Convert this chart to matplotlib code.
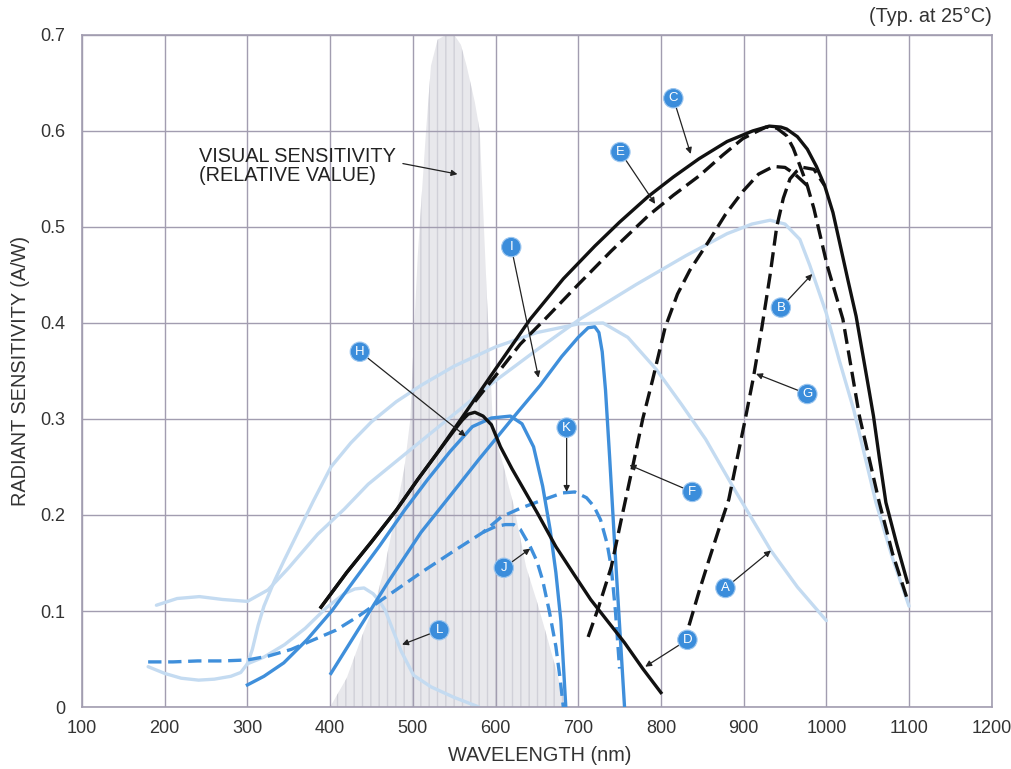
import matplotlib
matplotlib.use('Agg')
import matplotlib.pyplot as plt

plt.rcParams['font.family'] = ['Liberation Sans', 'DejaVu Sans']

# visual sensitivity (relative value), shaded band
vis_nm = [400, 420, 440, 455, 466, 480, 490, 497, 502, 506, 509, 516, 522, 530, 540, 550, 558, 565,
          575, 581, 586, 590, 594, 597, 610, 622, 637, 650, 661, 673, 685]
vis_val = [0.0, 0.03, 0.077, 0.11, 0.146, 0.205, 0.25, 0.3, 0.4, 0.47, 0.51, 0.6, 0.668, 0.695, 0.70,
           0.70, 0.69, 0.668, 0.63, 0.6, 0.5, 0.42, 0.35, 0.29, 0.25, 0.21, 0.146, 0.11, 0.077, 0.04, 0.0]

# light blue curves
A_nm = [180, 200, 220, 241, 260, 280, 292, 300, 306, 313, 320, 332, 344, 360, 380, 401, 425, 450, 480,
        510, 550, 600, 650, 700, 730, 760, 794, 825, 854, 890, 933, 965, 1000]
A_val = [0.042, 0.035, 0.03, 0.028, 0.029, 0.032, 0.036, 0.045, 0.06, 0.085, 0.105, 0.13, 0.152, 0.18,
         0.215, 0.25, 0.275, 0.297, 0.318, 0.335, 0.355, 0.375, 0.39, 0.399, 0.4, 0.385, 0.352, 0.315,
         0.279, 0.225, 0.163, 0.125, 0.09]
B_nm = [190, 215, 242, 270, 300, 325, 350, 385, 417, 446, 500, 550, 597, 650, 702, 770, 830, 880, 910,
        932, 950, 968, 980, 1000, 1016, 1033, 1060, 1080, 1100]
B_val = [0.106, 0.113, 0.115, 0.112, 0.11, 0.122, 0.145, 0.18, 0.206, 0.232, 0.27, 0.305, 0.338, 0.372,
         0.404, 0.44, 0.47, 0.493, 0.503, 0.507, 0.503, 0.487, 0.46, 0.41, 0.36, 0.31, 0.213, 0.155, 0.105]
L_nm = [300, 320, 345, 370, 395, 417, 430, 441, 452, 460, 467, 476, 486, 501, 522, 550, 580]
L_val = [0.045, 0.052, 0.065, 0.082, 0.103, 0.118, 0.123, 0.124, 0.118, 0.11, 0.1, 0.08, 0.058, 0.033,
         0.021, 0.01, 0.0]

# black curves
C_nm = [389, 420, 450, 480, 506, 530, 560, 600, 642, 682, 720, 750, 785, 815, 846, 880, 911, 931, 945,
        952, 965, 977, 988, 998, 1008, 1016, 1026, 1036, 1052, 1057, 1064, 1072, 1085, 1098]
C_val = [0.104, 0.14, 0.172, 0.205, 0.237, 0.265, 0.302, 0.352, 0.404, 0.446, 0.48, 0.505, 0.532, 0.552,
         0.571, 0.589, 0.600, 0.605, 0.604, 0.602, 0.594, 0.581, 0.563, 0.543, 0.515, 0.484, 0.445, 0.407,
         0.328, 0.303, 0.26, 0.213, 0.17, 0.13]
D_nm = [389, 420, 450, 480, 506, 530, 550, 560, 567, 575, 585, 595, 606, 620, 634, 650, 673, 695, 715,
        735, 756, 778, 800]
D_val = [0.104, 0.14, 0.172, 0.205, 0.237, 0.265, 0.288, 0.299, 0.305, 0.307, 0.303, 0.294, 0.271, 0.248,
         0.227, 0.203, 0.167, 0.138, 0.112, 0.09, 0.067, 0.04, 0.015]
E_nm = [575, 600, 630, 661, 700, 740, 785, 815, 846, 875, 899, 915, 927, 940, 952, 960, 968, 977, 985,
        1001, 1020, 1040, 1064, 1080, 1098]
E_val = [0.318, 0.345, 0.378, 0.405, 0.44, 0.475, 0.512, 0.533, 0.553, 0.575, 0.592, 0.599, 0.604, 0.603,
         0.595, 0.582, 0.564, 0.543, 0.519, 0.46, 0.404, 0.303, 0.213, 0.16, 0.112]
F_nm = [712, 725, 740, 752, 765, 778, 790, 805, 820, 835, 857, 878, 899, 918, 936, 950, 962, 977]
F_val = [0.073, 0.105, 0.146, 0.195, 0.247, 0.3, 0.341, 0.395, 0.43, 0.455, 0.484, 0.513, 0.537, 0.555,
         0.563, 0.562, 0.555, 0.543]
G_nm = [834, 846, 858, 870, 882, 892, 902, 912, 922, 932, 940, 948, 956, 964, 972, 985, 998]
G_val = [0.085, 0.12, 0.153, 0.185, 0.216, 0.258, 0.3, 0.344, 0.395, 0.45, 0.5, 0.53, 0.55, 0.558, 0.562,
         0.56, 0.543]

# blue curves
H_nm = [300, 320, 344, 372, 402, 430, 460, 490, 518, 545, 572, 595, 618, 632, 646, 657, 666, 673, 679, 685]
H_val = [0.023, 0.032, 0.046, 0.07, 0.1, 0.133, 0.168, 0.205, 0.237, 0.266, 0.292, 0.301, 0.303, 0.295,
         0.271, 0.23, 0.185, 0.14, 0.09, 0.0]
I_nm = [401, 430, 470, 510, 547, 580, 620, 654, 680, 700, 712, 720, 725, 729, 733, 738, 744, 750, 756]
I_val = [0.035, 0.075, 0.13, 0.182, 0.222, 0.258, 0.3, 0.335, 0.365, 0.385, 0.395, 0.396, 0.39, 0.37,
         0.33, 0.26, 0.17, 0.085, 0.0]
K_nm = [180, 210, 240, 270, 300, 325, 353, 380, 407, 435, 463, 490, 510, 547, 585, 607, 630, 655, 681,
        696, 710, 719, 727, 735, 740, 745, 750]
K_val = [0.047, 0.047, 0.048, 0.048, 0.049, 0.053, 0.06, 0.07, 0.08, 0.095, 0.112, 0.128, 0.14, 0.161,
         0.182, 0.198, 0.207, 0.215, 0.223, 0.224, 0.218, 0.209, 0.195, 0.17, 0.145, 0.1, 0.04]
J_nm = [585, 600, 612, 622, 630, 642, 650, 657, 665, 673, 678, 682]
J_val = [0.182, 0.188, 0.19, 0.19, 0.185, 0.167, 0.152, 0.132, 0.1, 0.063, 0.03, 0.0]

# label letter, circle position, arrow tip
labels = ['A', 'B', 'C', 'D', 'E', 'F', 'G', 'H', 'I', 'J', 'K', 'L']
label_xy = [(878, 0.124), (945, 0.416), (815, 0.634), (832, 0.07), (751, 0.578), (838, 0.224),
            (977, 0.326), (436, 0.37), (619, 0.479), (610, 0.145), (686, 0.291), (532, 0.08)]
tip_xy = [(933, 0.163), (983, 0.451), (836, 0.576), (781, 0.042), (793, 0.524), (762, 0.252),
          (915, 0.347), (564, 0.282), (652, 0.343), (642, 0.165), (686, 0.224), (487, 0.065)]

BLACK = '#111111'
BLUE = '#3f8fdb'
LIGHT = '#c4dbf1'
GRID = '#a29db0'
TEXT = '#333333'

fig = plt.figure(figsize=(10.12, 7.69), dpi=100)
ax = fig.add_axes([0.081, 0.0806, 0.899, 0.874])

ax.fill_between(vis_nm, 0, vis_val, facecolor='#e8e8ec', edgecolor='#d0d0d8', hatch='||',
                linewidth=0, zorder=0.3)

lw = 2.4
for xs, ys in [(A_nm, A_val), (B_nm, B_val), (L_nm, L_val)]:
    ax.plot(xs, ys, color=LIGHT, lw=lw, solid_joinstyle='round', solid_capstyle='round', zorder=2)
for xs, ys in [(H_nm, H_val), (I_nm, I_val)]:
    ax.plot(xs, ys, color=BLUE, lw=lw, solid_joinstyle='round', zorder=3)
for xs, ys in [(K_nm, K_val), (J_nm, J_val)]:
    ax.plot(xs, ys, color=BLUE, lw=lw, dashes=(4, 2), zorder=3)
for xs, ys in [(C_nm, C_val), (D_nm, D_val)]:
    ax.plot(xs, ys, color=BLACK, lw=lw, solid_joinstyle='round', zorder=4)
for xs, ys in [(E_nm, E_val), (F_nm, F_val), (G_nm, G_val)]:
    ax.plot(xs, ys, color=BLACK, lw=lw, dashes=(4.5, 2), zorder=4)

for lab, (lx, ly), (tx, ty) in zip(labels, label_xy, tip_xy):
    ax.annotate(lab, xy=(tx, ty), xytext=(lx, ly), ha='center', va='center', color='white',
                fontsize=9.5, zorder=6,
                bbox=dict(boxstyle='circle,pad=0.28', fc='#3b8ddb', ec='#9cc6ef', lw=0.8),
                arrowprops=dict(arrowstyle='-|>', color='#222222', lw=0.9, mutation_scale=9,
                                shrinkA=0, shrinkB=0))

ax.text(242, 0.563, 'VISUAL SENSITIVITY\n(RELATIVE VALUE)', fontsize=14.3, color='#222222',
        ha='left', va='center', linespacing=1.0, zorder=6)
ax.annotate('', xy=(554, 0.555), xytext=(488, 0.566),
            arrowprops=dict(arrowstyle='-|>', color='#222222', lw=0.9, mutation_scale=9,
                            shrinkA=0, shrinkB=0), zorder=6)

ax.set_xlim(100, 1200)
ax.set_ylim(0, 0.7)
ax.set_xticks(range(100, 1201, 100))
ax.set_yticks([0, 0.1, 0.2, 0.3, 0.4, 0.5, 0.6, 0.7])
ax.set_yticklabels(['0', '0.1', '0.2', '0.3', '0.4', '0.5', '0.6', '0.7'])
ax.tick_params(length=0, labelsize=13, labelcolor=TEXT)
ax.tick_params(axis='x', pad=9)
ax.tick_params(axis='y', pad=12)
ax.grid(True, color=GRID, lw=1.0)
ax.set_axisbelow(True)
for s in ax.spines.values():
    s.set_color(GRID)
    s.set_linewidth(1.2)

ax.set_xlabel('WAVELENGTH (nm)', fontsize=14.3, color=TEXT)
ax.xaxis.set_label_coords(0.503, -0.058)
ax.set_ylabel('RADIANT SENSITIVITY (A/W)', fontsize=14.3, color=TEXT)
ax.yaxis.set_label_coords(-0.057, 0.5)
fig.text(0.980, 0.979, '(Typ. at 25°C)', fontsize=14.3, color=TEXT, ha='right', va='center')

fig.savefig('out.png', dpi=100)
